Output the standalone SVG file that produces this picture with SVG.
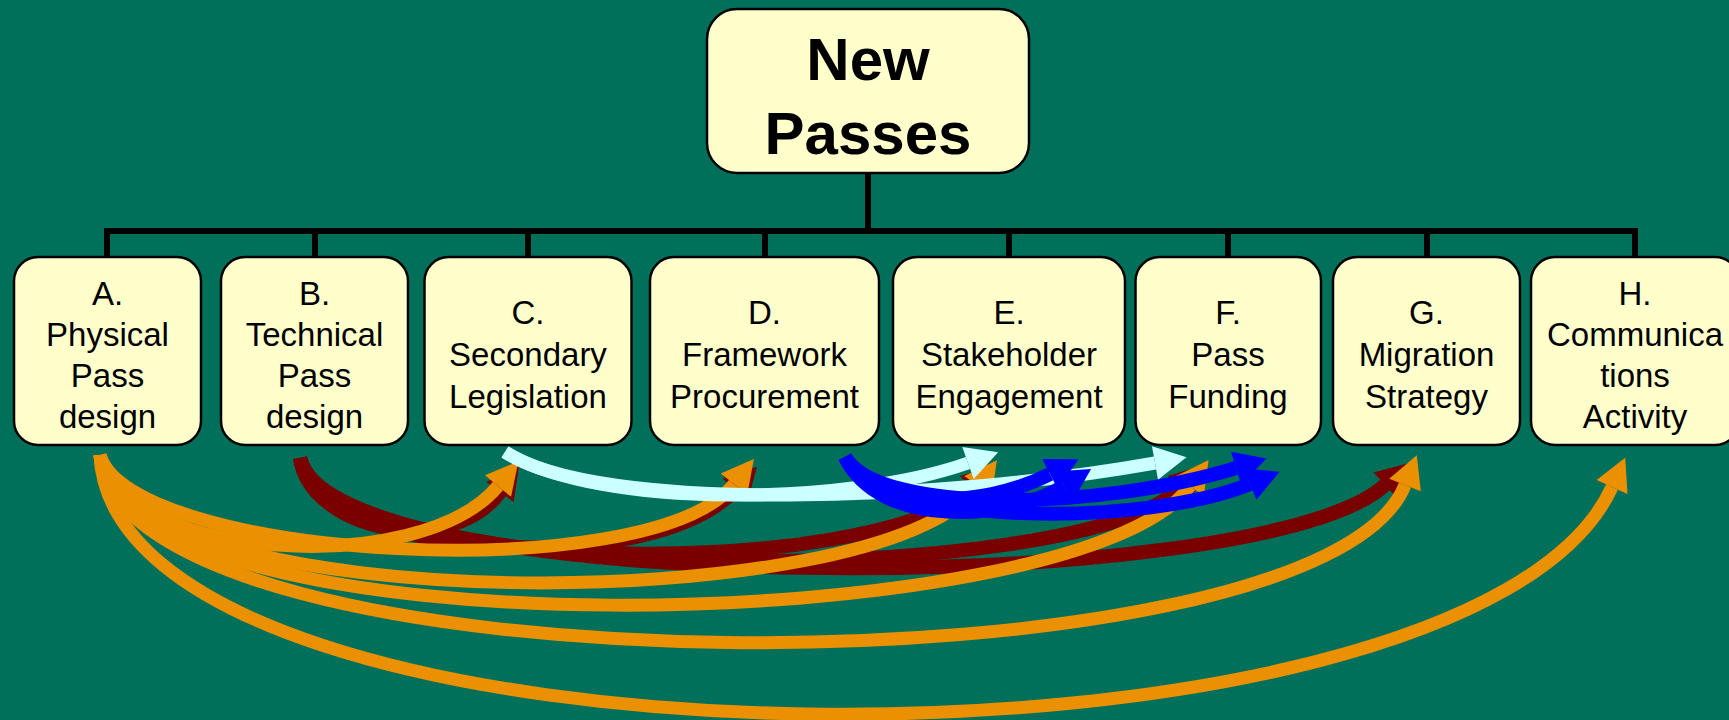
<svg xmlns="http://www.w3.org/2000/svg" width="1729" height="720" viewBox="0 0 1729 720">
<defs>
<style>
.bg{fill:#01705A}
.box{fill:#FFFFCC;stroke:#000;stroke-width:2.5}
.t{font-family:"Liberation Sans",Arial,sans-serif;font-size:33px;fill:#000;text-anchor:middle}
.tb{font-family:"Liberation Sans",Arial,sans-serif;font-size:60px;font-weight:bold;fill:#000;text-anchor:middle}
.tree{fill:none;stroke:#000;stroke-width:6}
.arr{fill:none;stroke-width:13;stroke-linecap:butt}
.or{stroke:#EB9000;marker-end:url(#mOr)}
.rd{stroke:#7A0000;stroke-width:14;marker-end:url(#mRd)}
.cy{stroke:#CCFFFF;marker-end:url(#mCy)}
.bl{stroke:#0000FF;stroke-width:14;marker-end:url(#mBl)}
</style>
<marker id="mOr" markerUnits="userSpaceOnUse" viewBox="0 -20 40 40" markerWidth="40" markerHeight="40" refX="0" refY="0" orient="auto" overflow="visible"><path d="M0,-17 L32,0 L0,17 Z" fill="#EB9000"/></marker>
<marker id="mRd" markerUnits="userSpaceOnUse" viewBox="0 -20 40 40" markerWidth="40" markerHeight="40" refX="0" refY="0" orient="auto" overflow="visible"><path d="M0,-17 L32,0 L0,17 Z" fill="#7A0000"/></marker>
<marker id="mCy" markerUnits="userSpaceOnUse" viewBox="0 -20 40 40" markerWidth="40" markerHeight="40" refX="0" refY="0" orient="auto" overflow="visible"><path d="M0,-17 L32,0 L0,17 Z" fill="#CCFFFF"/></marker>
<marker id="mBl" markerUnits="userSpaceOnUse" viewBox="0 -20 40 40" markerWidth="40" markerHeight="40" refX="0" refY="0" orient="auto" overflow="visible"><path d="M0,-17 L32,0 L0,17 Z" fill="#0000FF"/></marker>
</defs>
<rect class="bg" x="0" y="0" width="1729" height="720"/>

<g id="tree-connectors">
<path class="tree" d="M868,173 V231 M107,231 H1635 M107,228 V257 M315,228 V257 M528,228 V257 M765,228 V257 M1009,228 V257 M1228,228 V257 M1427,228 V257 M1635,228 V257"/>
</g>

<g id="root">
<rect class="box" x="707" y="9" width="322" height="164" rx="30"/>
<text class="tb" x="868" y="80">New</text>
<text class="tb" x="868" y="154">Passes</text>
</g>

<g id="nodeA">
<rect class="box" x="14" y="257" width="187" height="188" rx="24"/>
<text class="t" x="107.5" y="305">A.</text>
<text class="t" x="107.5" y="346">Physical</text>
<text class="t" x="107.5" y="387">Pass</text>
<text class="t" x="107.5" y="428">design</text>
</g>
<g id="nodeB">
<rect class="box" x="221" y="257" width="187" height="188" rx="24"/>
<text class="t" x="314.5" y="305">B.</text>
<text class="t" x="314.5" y="346">Technical</text>
<text class="t" x="314.5" y="387">Pass</text>
<text class="t" x="314.5" y="428">design</text>
</g>
<g id="nodeC">
<rect class="box" x="424.5" y="257" width="207" height="188" rx="24"/>
<text class="t" x="528" y="324">C.</text>
<text class="t" x="528" y="366">Secondary</text>
<text class="t" x="528" y="408">Legislation</text>
</g>
<g id="nodeD">
<rect class="box" x="650" y="257" width="229" height="188" rx="24"/>
<text class="t" x="764.5" y="324">D.</text>
<text class="t" x="764.5" y="366">Framework</text>
<text class="t" x="764.5" y="408">Procurement</text>
</g>
<g id="nodeE">
<rect class="box" x="893" y="257" width="232" height="188" rx="24"/>
<text class="t" x="1009" y="324">E.</text>
<text class="t" x="1009" y="366">Stakeholder</text>
<text class="t" x="1009" y="408">Engagement</text>
</g>
<g id="nodeF">
<rect class="box" x="1135.5" y="257" width="185.5" height="188" rx="24"/>
<text class="t" x="1228" y="324">F.</text>
<text class="t" x="1228" y="366">Pass</text>
<text class="t" x="1228" y="408">Funding</text>
</g>
<g id="nodeG">
<rect class="box" x="1333" y="257" width="187" height="188" rx="24"/>
<text class="t" x="1426.5" y="324">G.</text>
<text class="t" x="1426.5" y="366">Migration</text>
<text class="t" x="1426.5" y="408">Strategy</text>
</g>
<g id="nodeH">
<rect class="box" x="1531" y="257" width="208" height="188" rx="24"/>
<text class="t" x="1635" y="305">H.</text>
<text class="t" x="1635" y="346">Communica</text>
<text class="t" x="1635" y="387">tions</text>
<text class="t" x="1635" y="428">Activity</text>
</g>

<g id="dependency-arrows">
<g id="red-from-B">
<path class="arr rd" d="M300,458 C310,530 450,560 500,492"/>
<path class="arr rd" d="M300,458 C320,560 650,580 735,490"/>
<path class="arr rd" d="M300,458 C330,580 880,580 972,488"/>
<path class="arr rd" d="M300,458 C330,590 1080,590 1180,488"/>
<path class="arr rd" d="M300,458 C330,600 1260,600 1385,485"/>
</g>
<g id="orange-from-A">
<path class="arr or" d="M100,455 C115,790 1470,800 1612,487"/>
<path class="arr or" d="M100,455 C120,700 1320,700 1405,485"/>
<path class="arr or" d="M100,455 C120,660 1080,640 1190,486"/>
<path class="arr or" d="M100,455 C120,620 880,620 978,486"/>
<path class="arr or" d="M100,455 C130,560 650,590 734,484"/>
<path class="arr or" d="M100,455 C120,560 420,580 498,486"/>
</g>
<g id="cyan-from-C">
<path class="arr cy" d="M505,452 C600,510 850,505 968,463"/>
<path class="arr cy" d="M505,452 C600,515 950,500 1155,463"/>
</g>
<g id="blue-from-D">
<path class="arr bl" d="M845,457 C870,510 980,510 1050,474"/>
<path class="arr bl" d="M845,457 C880,530 1010,520 1064,486"/>
<path class="arr bl" d="M845,457 C880,515 1100,510 1236,468"/>
<path class="arr bl" d="M845,457 C890,530 1150,525 1250,484"/>
</g>
</g>
</svg>
